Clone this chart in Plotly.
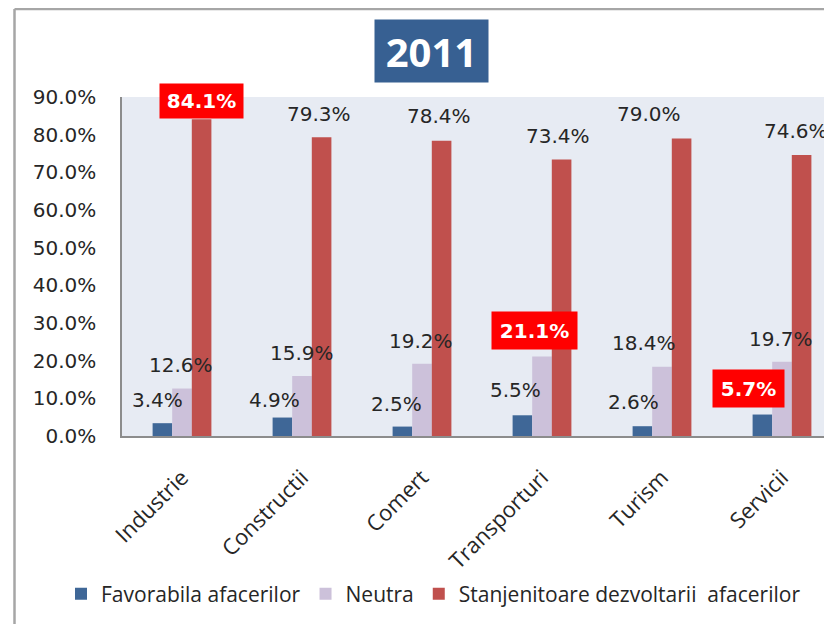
import plotly.graph_objects as go

# ---------------- data ----------------
categories = ["Industrie", "Constructii", "Comert", "Transporturi", "Turism", "Servicii"]
favorabila = [3.4, 4.9, 2.5, 5.5, 2.6, 5.7]
neutra = [12.6, 15.9, 19.2, 21.1, 18.4, 19.7]
stanjenitoare = [84.1, 79.3, 78.4, 73.4, 79.0, 74.6]
series_names = ["Favorabila afacerilor", "Neutra", "Stanjenitoare dezvoltarii  afacerilor"]
y_ticks = [0, 10, 20, 30, 40, 50, 60, 70, 80, 90]
title_text = "2011"

# ---------------- styles / label placement (pixels) ----------------
colors = ["#3F6797", "#CCC1DA", "#C0504D"]
label_dx = [
    [-25, -28, -26, -27, -29, -34],
    [-1, 0, -1, -8, -18, -1],
    [19, 17, 17, 16, -13, 14],
]
label_dy = [
    [23, 18, 23, 25, 24, 26],
    [24, 23, 23, 26, 24, 23],
    [18, 23, 25, 24, 24, 24],
]
box_sizes = [(71, 37), (85, 37), (83, 34)]

# page has an 8px body margin; figure is sized so the page is 832x624
OFF = 8
W, H = 832 - OFF, 624 - OFF
L, R, T, B = 122 - OFF, 0, 97 - OFF, 188
PW, PH = W - L - R, H - T - B


def pxx(x):  # page pixel -> paper
    return (x - OFF - L) / PW


def pxy(y):
    return (H - B - (y - OFF)) / PH


fig = go.Figure()
all_series = [favorabila, neutra, stanjenitoare]
for name, vals, col in zip(series_names, all_series, colors):
    fig.add_trace(go.Bar(x=categories, y=vals, name=name, marker=dict(color=col, line=dict(width=0))))

annotations = []
for s, vals in enumerate(all_series):
    imax = max(range(len(vals)), key=lambda i: vals[i])
    for i, v in enumerate(vals):
        txt = f"{v:.1f}%"
        if i == imax:
            bw, bh = box_sizes[s]
            annotations.append(dict(
                x=categories[i], y=v, xref="x", yref="y", text=f"<b>{txt}</b>",
                showarrow=False, xshift=label_dx[s][i], yshift=label_dy[s][i],
                font=dict(family="DejaVu Sans", size=20, color="white"),
                bgcolor="#FF0000", width=bw, height=bh, borderpad=0,
                xanchor="center", yanchor="middle"))
        else:
            annotations.append(dict(
                x=categories[i], y=v, xref="x", yref="y", text=txt,
                showarrow=False, xshift=label_dx[s][i], yshift=label_dy[s][i],
                font=dict(family="DejaVu Sans", size=20, color="#262626"),
                xanchor="center", yanchor="middle"))

annotations.append(dict(
    x=pxx(431.5), y=pxy(51), xref="paper", yref="paper", text=f"<b>{title_text}</b>",
    showarrow=False, font=dict(family="Open Sans", size=40, color="white"),
    bgcolor="#376092", width=113, height=62, borderpad=0,
    xanchor="center", yanchor="middle"))

frame_col = "#A6A6A6"
shapes = [
    dict(type="line", xref="paper", yref="paper", x0=pxx(14.5), x1=pxx(845), y0=pxy(9), y1=pxy(9),
         line=dict(color=frame_col, width=2.5)),
    dict(type="line", xref="paper", yref="paper", x0=pxx(14.5), x1=pxx(14.5), y0=pxy(9), y1=pxy(640),
         line=dict(color=frame_col, width=2.5)),
]

fig.update_layout(
    width=W, height=H,
    margin=dict(l=L, r=R, t=T, b=B, pad=0),
    paper_bgcolor="white", plot_bgcolor="#E7EBF3",
    barmode="group", bargap=0.51, bargroupgap=0,
    showlegend=True,
    legend=dict(orientation="h", x=pxx(61), xanchor="left", y=pxy(594), yanchor="middle",
                font=dict(family="Open Sans", size=21, color="#262626"),
                bgcolor="rgba(0,0,0,0)", itemwidth=30, traceorder="normal"),
    annotations=annotations, shapes=shapes,
    xaxis=dict(type="category", range=[-0.5, 5.4167], showgrid=False, showline=True,
               linecolor="#8C8C8C", linewidth=2, ticks="", tickangle=-45,
               tickfont=dict(family="Open Sans", size=22, color="#262626"),
               ticklabelstandoff=18, automargin=False, zeroline=False),
    yaxis=dict(range=[0, 90], tickvals=y_ticks, ticktext=[f"{t:.1f}%" for t in y_ticks],
               showgrid=False, showline=True, linecolor="#8C8C8C", linewidth=1.5, ticks="",
               tickfont=dict(family="DejaVu Sans", size=20, color="#262626"),
               ticklabelstandoff=20, automargin=False, zeroline=False),
)

fig.write_html("out.html", config={"displayModeBar": False, "responsive": False})
